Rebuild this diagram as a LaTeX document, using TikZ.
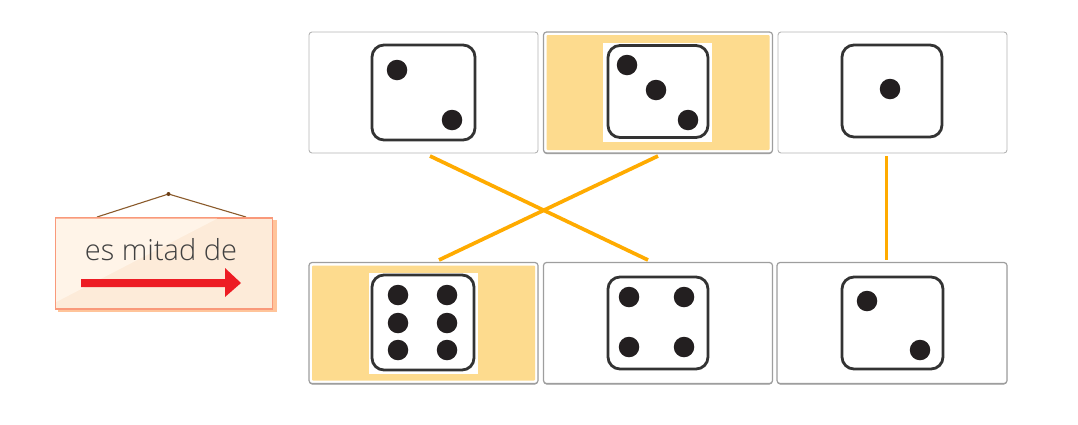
\documentclass[tikz,border=0pt]{standalone}
\usepackage{fontspec}
\usetikzlibrary{shadows}
\setmainfont[UprightFont=* Light]{Open Sans}
\definecolor{pipc}{HTML}{231F20}
\definecolor{diec}{HTML}{333333}
\definecolor{hl}{HTML}{FDDB8E}
\definecolor{linkc}{HTML}{FFAB00}
\definecolor{edgec}{HTML}{B4B4B4}
\definecolor{signback}{HTML}{FFC49A}
\definecolor{signfill}{HTML}{FDEBD9}
\definecolor{signedgec}{HTML}{F9997A}
\definecolor{signlight}{HTML}{FFF4E8}
\definecolor{arrowred}{HTML}{ED1C24}
\definecolor{cordc}{HTML}{8A5A2B}
\definecolor{nailc}{HTML}{6B3E16}
\tikzset{
  x=1pt,y=-1pt,
  card/.style={draw=edgec,line width=.9pt,fill=white,rounded corners=3pt,minimum width=229pt,minimum height=121pt,inner sep=0pt,outer sep=0pt},
  raised/.style={card,draw=black!38,line width=1.2pt,drop shadow={shadow xshift=0pt,shadow yshift=-1pt,opacity=.4,fill=black}},
  inset/.style={fill=hl,rounded corners=1pt,minimum width=223pt,minimum height=115pt,inner sep=0pt},
  photo/.style={fill=white,minimum width=109pt,minimum height=100pt,inner sep=0pt},
  die/.style={draw=diec,line width=2.8pt,rounded corners=12pt,fill=white,inner sep=0pt,minimum width=#1},
  pip/.style={circle,fill=pipc,minimum size=20.5pt,inner sep=0pt},
  link/.style={draw=linkc,line width=3.7pt}
}
\begin{document}
\begin{tikzpicture}
\useasboundingbox (0,0) rectangle (1078,424);
% top row
\node[card] (t1) at (423.5,92.5) {};
\node[raised,minimum width=229pt] (t2) at (658,92.5) {};
\node[inset] (t2i) at (t2) {};
\node[photo,minimum height=99pt] (t2p) at (657.5,92.5) {};
\node[card] (t3) at (892.5,92.5) {};
% bottom row
\node[raised] (b1) at (423.5,323) {};
\node[inset] (b1i) at (b1) {};
\node[photo,minimum height=101pt] (b1p) at (423.5,323.5) {};
\node[raised] (b2) at (658,323) {};
\node[raised,minimum width=230pt] (b3) at (892,323) {};
% dice, top
\node[die=103pt,minimum height=95pt] (d1) at (423.5,92.5) {};
\node[pip] (d1a) at (397,70) {};
\node[pip] (d1b) at (452,120) {};
\node[die=100pt,minimum height=92pt] (d2) at (658,91.5) {};
\node[pip] (d2a) at (627,65) {};
\node[pip] (d2b) at (656,90) {};
\node[pip] (d2c) at (688,120) {};
\node[die=100pt,minimum height=92pt] (d3) at (892,91) {};
\node[pip] (d3a) at (890,89) {};
% dice, bottom
\node[die=102pt,minimum height=95pt] (d4) at (423,322.5) {};
\node[pip] (d4a) at (398,295) {};
\node[pip] (d4b) at (447,295) {};
\node[pip] (d4c) at (398,323) {};
\node[pip] (d4d) at (447,323) {};
\node[pip] (d4e) at (398,350) {};
\node[pip] (d4f) at (447,350) {};
\node[die=100pt,minimum height=92pt] (d5) at (658,323) {};
\node[pip] (d5a) at (629,297) {};
\node[pip] (d5b) at (684,297) {};
\node[pip] (d5c) at (629,347) {};
\node[pip] (d5d) at (684,347) {};
\node[die=101pt,minimum height=92pt] (d6) at (892.5,323) {};
\node[pip] (d6a) at (867,301) {};
\node[pip] (d6b) at (920,350) {};
% connector ends
\coordinate (la) at (430,156);
\coordinate (lb) at (648,260);
\coordinate (lc) at (658,156);
\coordinate (ld) at (439,260);
\coordinate (le) at (886.5,156);
\coordinate (lf) at (886.5,260);
\draw[link] (la) -- (lb);
\draw[link] (lc) -- (ld);
\draw[link] (le) -- (lf);
% sign
\coordinate (nail) at (168.5,194);
\coordinate (cl) at (97,217);
\coordinate (cr) at (246,217);
\draw[draw=cordc,line width=1.1pt] (cl) -- (nail) -- (cr);
\fill[nailc] (nail) circle (2);
\fill[signback] (58,220) rectangle (277,311.5);
\node[fill=signfill,draw=signedgec,line width=1.4pt,minimum width=217pt,minimum height=91pt,inner sep=0pt] (sign) at (164,263.5) {};
\fill[signlight] (56.2,218.7) -- (217,218.7) -- (56.2,302) -- cycle;
\node[text=black!75,font=\fontsize{29}{33}\selectfont,inner sep=0pt,anchor=base] (label) at (161,260.5) {es mitad de};
\fill[arrowred] (81,279) -- (225,279) -- (225,268) -- (241,283) -- (225,297) -- (225,287) -- (81,287) -- cycle;
\end{tikzpicture}
\end{document}
